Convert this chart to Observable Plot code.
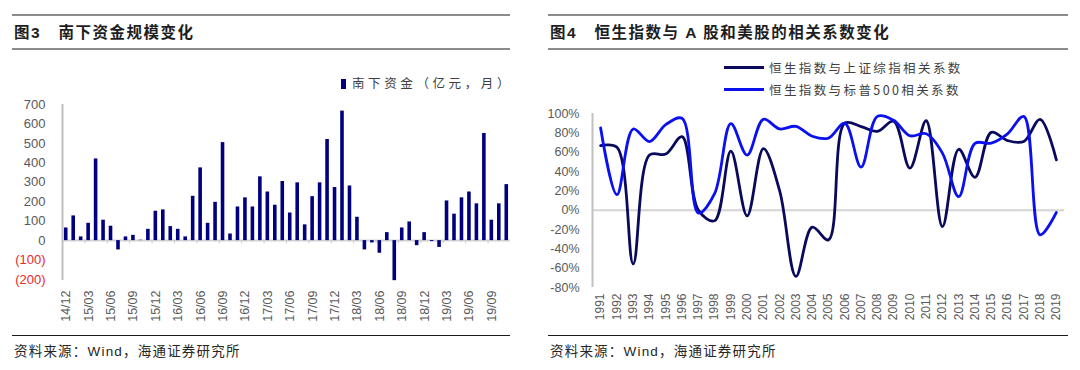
<!DOCTYPE html>
<html><head><meta charset="utf-8">
<script src="https://cdn.jsdelivr.net/npm/d3@7"></script>
<script src="https://cdn.jsdelivr.net/npm/@observablehq/plot@0.6"></script>
<style>
body{margin:0;background:#fff;}
#root{position:relative;width:1080px;height:370px;overflow:hidden;background:#fff;font-family:"Liberation Sans","Noto Sans CJK SC",sans-serif;}
.hl{position:absolute;height:0;}
.ttl{position:absolute;top:22px;font-size:15.5px;font-weight:bold;color:#1e1e1e;white-space:nowrap;line-height:22px;font-family:"Liberation Sans","Noto Sans CJK SC",sans-serif;letter-spacing:1.5px;}
.src{position:absolute;top:342px;font-size:13.5px;color:#262626;white-space:nowrap;line-height:20px;letter-spacing:1.2px;font-family:"Liberation Sans","Noto Sans CJK SC",sans-serif;}
.leg{position:absolute;font-size:12.5px;color:#404040;white-space:nowrap;line-height:16px;letter-spacing:2.4px;font-family:"Noto Sans CJK SC","Liberation Sans",sans-serif;}
.chart{position:absolute;top:95px;}
</style></head>
<body><div id="root"></div>
<script>
// ---- Figure 3: southbound flows (100m HKD / month) ----
const months = ["14/12","15/01","15/02","15/03","15/04","15/05","15/06","15/07","15/08","15/09","15/10","15/11",
"15/12","16/01","16/02","16/03","16/04","16/05","16/06","16/07","16/08","16/09","16/10","16/11",
"16/12","17/01","17/02","17/03","17/04","17/05","17/06","17/07","17/08","17/09","17/10","17/11",
"17/12","18/01","18/02","18/03","18/04","18/05","18/06","18/07","18/08","18/09","18/10","18/11",
"18/12","19/01","19/02","19/03","19/04","19/05","19/06","19/07","19/08","19/09","19/10","19/11"];
const flows = [65,127,19,89,420,105,74,-48,19,27,2,58,
151,158,72,58,19,228,374,89,197,504,34,173,
220,173,328,250,182,304,142,297,81,226,297,520,
273,666,281,120,-48,-12,-65,41,-206,65,96,-26,
41,-5,-35,204,136,220,250,189,551,105,189,288];
const monthTickLabels = ["14/12","15/03","15/06","15/09","15/12","16/03","16/06","16/09","16/12","17/03","17/06","17/09","17/12","18/03","18/06","18/09","18/12","19/03","19/06","19/09"];
const flowTicks = [-200,-100,0,100,200,300,400,500,600,700];

// ---- Figure 4: correlation of HSI with A shares and US stocks ----
const years = [1991,1992,1993,1994,1995,1996,1997,1998,1999,2000,2001,2002,2003,2004,2005,2006,2007,2008,2009,2010,2011,2012,2013,2014,2015,2016,2017,2018,2019];
const corrShanghai = [66.7,65,-55.5,57,58,76,0,-11,61,-6,63.6,20,-68.5,-17.6,-30.7,90,86.5,81.5,92,43.5,92.5,-17,63,34,80.5,72,71,94,52];
const corrSP500 = [85,16,84,71,88.5,95,-3,17,89.5,57,94,84,86.7,76.5,74.6,90,44.5,97,93,77,79,59,14,69,69.4,79,97,-25.5,-2.4];
const corrTicks = [-80,-60,-40,-20,0,20,40,60,80,100];

const root = document.getElementById("root");
function add(html){ root.insertAdjacentHTML("beforeend", html); }

// panel frames (titles, rules, sources)
add(`<div class="hl" style="left:12px;width:498px;top:14px;border-top:2px solid #8c8c8c"></div>`);
add(`<div class="hl" style="left:12px;width:498px;top:48px;border-top:2px solid #8c8c8c"></div>`);
add(`<div class="ttl" style="left:14px">图3&nbsp;&nbsp;&nbsp;南下资金规模变化</div>`);
add(`<div class="hl" style="left:12px;width:498px;top:335px;border-top:1px solid #1a1a1a"></div>`);
add(`<div class="src" style="left:14px">资料来源：Wind，海通证券研究所</div>`);

add(`<div class="hl" style="left:548px;width:520px;top:14px;border-top:2px solid #8c8c8c"></div>`);
add(`<div class="hl" style="left:548px;width:520px;top:48px;border-top:2px solid #8c8c8c"></div>`);
add(`<div class="ttl" style="left:550px">图4&nbsp;&nbsp;&nbsp;恒生指数与 A 股和美股的相关系数变化</div>`);
add(`<div class="hl" style="left:548px;width:520px;top:335px;border-top:1px solid #1a1a1a"></div>`);
add(`<div class="src" style="left:550px">资料来源：Wind，海通证券研究所</div>`);

// legends
add(`<div class="leg" style="left:341px;top:75px;letter-spacing:3.6px"><span style="display:inline-block;width:5px;height:10px;background:#00007f;margin-right:6px;vertical-align:-1px"></span>南下资金（亿元，月）</div>`);
add(`<div class="leg" style="left:724px;top:60px"><span style="display:inline-block;width:40px;height:0;border-top:3px solid #0a0a5c;margin-right:5px;vertical-align:4px"></span>恒生指数与上证综指相关系数</div>`);
add(`<div class="leg" style="left:724px;top:82px"><span style="display:inline-block;width:40px;height:0;border-top:3px solid #0a10ee;margin-right:5px;vertical-align:4px"></span>恒生指数与标普500相关系数</div>`);

// Left chart
const barData = flows.map((v,i)=>({i, m: months[i], v}));
const labelIdx = monthTickLabels.map(l => months.indexOf(l));
const boundaryIdx = d3.range(2, 59, 3).map(i => i + 0.5);
const left = Plot.plot({
  width: 530, height: 240,
  marginLeft: 62, marginRight: 20, marginTop: 9, marginBottom: 56,
  x: {type: "linear", domain: [-0.5, 59.5], axis: null},
  y: {domain: [-200, 700], axis: null},
  style: {fontFamily: "'Liberation Sans', Arial, sans-serif", background: "transparent"},
  marks: [
    Plot.ruleY([0], {stroke: "#d4d4d4", strokeWidth: 2}),
    Plot.ruleX(boundaryIdx, {y1: 0, y2: -16, stroke: "#c8c8c8", strokeWidth: 1}),
    Plot.ruleX([-0.5], {y1: -205, y2: 700, stroke: "#c0c0c0", strokeWidth: 2}),
    Plot.rectY(barData, {x1: d => d.i - 0.24, x2: d => d.i + 0.24, y1: 0, y2: "v", fill: "#00007f"}),
    Plot.text(flowTicks, {frameAnchor: "left", y: d => d, text: d => d < 0 ? `(${-d})` : String(d),
      textAnchor: "end", dx: -17, fontSize: 13, fill: d => d < 0 ? "#e8282b" : "#595959"}),
    Plot.text(labelIdx, {x: d => d, frameAnchor: "bottom", text: d => months[d], rotate: -90,
      textAnchor: "end", lineAnchor: "middle", dy: 11, fontSize: 12.5, fill: "#595959"})
  ]
});
left.classList.add("chart");
left.style.left = "0px";
root.appendChild(left);

// Right chart
const lineA = corrShanghai.map((v,i)=>({year: years[i], v: v/100}));
const lineB = corrSP500.map((v,i)=>({year: years[i], v: v/100}));
const right = Plot.plot({
  width: 540, height: 240,
  marginLeft: 52, marginRight: 16, marginTop: 18, marginBottom: 48,
  x: {domain: [1990.5, 2019.5], axis: null},
  y: {domain: [-0.8, 1.0], axis: null},
  style: {fontFamily: "'Liberation Sans', Arial, sans-serif", background: "transparent"},
  marks: [
    Plot.ruleY([0], {stroke: "#d4d4d4", strokeWidth: 2}),
    Plot.ruleX([1990.5], {y1: -0.8, y2: 1.0, stroke: "#c0c0c0", strokeWidth: 2}),
    Plot.line(lineA, {x: "year", y: "v", stroke: "#0a0a5c", strokeWidth: 2.8, curve: "catmull-rom", tension: 0.5}),
    Plot.line(lineB, {x: "year", y: "v", stroke: "#0a10ee", strokeWidth: 2.8, curve: "catmull-rom", tension: 0.5}),
    Plot.text(corrTicks, {frameAnchor: "left", y: d => d / 100, text: d => d + "%",
      textAnchor: "end", dx: -13, fontSize: 12.5, fill: "#595959"}),
    Plot.text(years, {x: d => d, frameAnchor: "bottom", text: d => String(d), rotate: -90,
      textAnchor: "end", lineAnchor: "middle", dy: 6, fontSize: 12, fill: "#595959"})
  ]
});
right.classList.add("chart");
right.style.left = "540px";
root.appendChild(right);
</script>
</body></html>
